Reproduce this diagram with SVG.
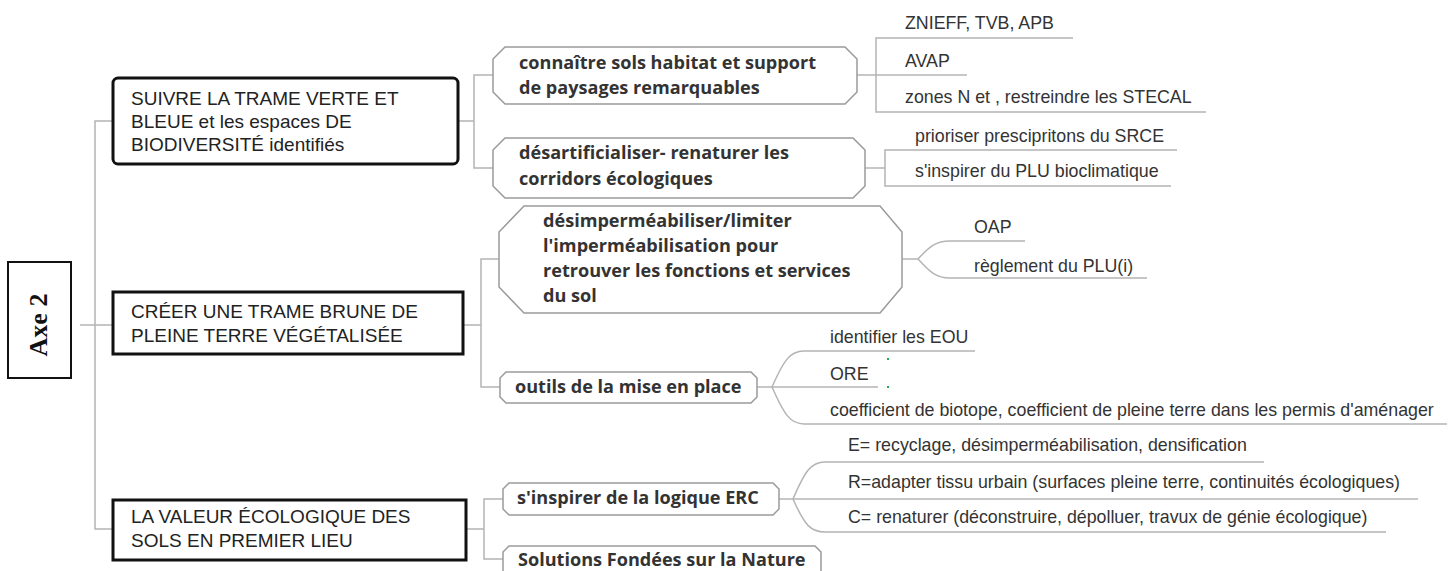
<svg xmlns="http://www.w3.org/2000/svg" width="1451" height="571" viewBox="0 0 1451 571">
  <style>
    .bg { fill: #ffffff; }
    .main { fill: #ffffff; stroke: #111111; stroke-width: 3; }
    .axe { fill: #ffffff; stroke: #111111; stroke-width: 2; }
    .sub { fill: #ffffff; stroke: #9a9a9a; stroke-width: 1.5; }
    .link { fill: none; stroke: #b4b4b4; stroke-width: 1.5; }
    .t1 { font-family: "Liberation Sans", Arial, sans-serif; font-size: 19px; fill: #222222; }
    .t2 { font-family: "Open Sans", "DejaVu Sans", sans-serif; font-weight: 700; font-size: 18.1px; fill: #333333; }
    .t3 { font-family: "Liberation Sans", Arial, sans-serif; font-size: 17.8px; fill: #333333; }
    .tax { font-family: "Liberation Serif", "Times New Roman", serif; font-weight: 700; font-size: 26px; fill: #111111; }
  </style>
  <rect class="bg" x="0" y="0" width="1451" height="571"/>

  <!-- connectors -->
  <g id="connectors">
    <path class="link" d="M80,325 H95"/>
    <path class="link" d="M113,121 H95 V529 H113 M95,325 H113"/>
    <!-- branch 1 -->
    <path class="link" d="M458,121 H474 M493,75 H474 V168 H493"/>
    <path class="link" d="M857,75 H967"/>
    <path class="link" d="M1073,38 H876 V112 H1206"/>
    <path class="link" d="M865,168 H885"/>
    <path class="link" d="M1177,150 H885 V186 H1171"/>
    <!-- branch 2 -->
    <path class="link" d="M463,325 H481 M499,259 H481 V387 H500"/>
    <path class="link" d="M902,259 H918"/>
    <path class="link" d="M918,259 C930,246 936,241 950,241 H1025"/>
    <path class="link" d="M918,259 C930,272 936,278 950,278 H1147"/>
    <path class="link" d="M757,387 H878"/>
    <path class="link" d="M772,387 C784,360 790,351 804,351 H975"/>
    <path class="link" d="M772,387 C784,414 790,424 804,424 H1447"/>
    <!-- branch 3 -->
    <path class="link" d="M466,529 H484 M503,499 H484 V559 H503"/>
    <path class="link" d="M779,499 H1418"/>
    <path class="link" d="M793,499 C805,471 811,462 825,462 H1264"/>
    <path class="link" d="M793,499 C805,526 811,532 825,532 H1386"/>
    <!-- stray marks near ORE -->
    <rect x="887" y="358" width="2" height="2" fill="#22aa55"/>
    <rect x="887" y="386" width="2" height="2" fill="#22aa55"/>
  </g>

  <!-- root -->
  <g id="axe2">
    <rect class="axe" x="8" y="262" width="63" height="116"/>
    <text class="tax" x="47" y="325" text-anchor="middle" transform="rotate(-90 47 325)">Axe 2</text>
  </g>

  <!-- first level -->
  <g id="n-tvb">
    <rect class="main" x="113" y="78" width="345" height="86" rx="5"/>
    <text class="t1" x="131" y="105">SUIVRE LA TRAME VERTE ET</text>
    <text class="t1" x="131" y="128">BLEUE et les espaces DE</text>
    <text class="t1" x="131" y="151">BIODIVERSITÉ identifiés</text>
  </g>
  <g id="n-brune">
    <rect class="main" x="113" y="292" width="350" height="62"/>
    <text class="t1" x="131" y="318">CRÉER UNE TRAME BRUNE DE</text>
    <text class="t1" x="131" y="342">PLEINE TERRE VÉGÉTALISÉE</text>
  </g>
  <g id="n-valeur">
    <rect class="main" x="113" y="500" width="353" height="60"/>
    <text class="t1" x="131" y="523">LA VALEUR ÉCOLOGIQUE DES</text>
    <text class="t1" x="131" y="547">SOLS EN PREMIER LIEU</text>
  </g>

  <!-- second level -->
  <g id="n-connaitre">
    <polygon class="sub" points="505,47 845,47 857,59 857,92 845,104 505,104 493,92 493,59"/>
    <text class="t2" x="519" y="69">connaître sols habitat et support</text>
    <text class="t2" x="519" y="94">de paysages remarquables</text>
  </g>
  <g id="n-desartif">
    <polygon class="sub" points="505,138 853,138 865,150 865,186 853,198 505,198 493,186 493,150"/>
    <text class="t2" x="519" y="159">désartificialiser- renaturer les</text>
    <text class="t2" x="519" y="185">corridors écologiques</text>
  </g>
  <g id="n-desimper">
    <polygon class="sub" points="524,206 880,206 902,232 902,287 880,313 524,313 499,287 499,232"/>
    <text class="t2" x="543" y="227">désimperméabiliser/limiter</text>
    <text class="t2" x="543" y="252">l'imperméabilisation pour</text>
    <text class="t2" x="543" y="277">retrouver les fonctions et services</text>
    <text class="t2" x="543" y="302">du sol</text>
  </g>
  <g id="n-outils">
    <polygon class="sub" points="506,372 751,372 757,378 757,397 751,403 506,403 500,397 500,378"/>
    <text class="t2" x="515" y="393">outils de la mise en place</text>
  </g>
  <g id="n-erc">
    <polygon class="sub" points="509,483 773,483 779,489 779,509 773,515 509,515 503,509 503,489"/>
    <text class="t2" x="517" y="504">s'inspirer de la logique ERC</text>
  </g>
  <g id="n-sfn">
    <polygon class="sub" points="509,546 815,546 821,552 821,590 503,590 503,552"/>
    <text class="t2" x="518" y="566">Solutions Fondées sur la Nature</text>
  </g>

  <!-- leaves -->
  <g id="l-znieff"><text class="t3" x="905" y="29">ZNIEFF, TVB, APB</text></g>
  <g id="l-avap"><text class="t3" x="905" y="67">AVAP</text></g>
  <g id="l-zones"><text class="t3" x="905" y="103">zones N et , restreindre les STECAL</text></g>
  <g id="l-srce"><text class="t3" x="915" y="142">prioriser prescipritons du SRCE</text></g>
  <g id="l-plu"><text class="t3" x="915" y="177">s'inspirer du PLU bioclimatique</text></g>
  <g id="l-oap"><text class="t3" x="974" y="233">OAP</text></g>
  <g id="l-reglement"><text class="t3" x="974" y="272">règlement du PLU(i)</text></g>
  <g id="l-eou"><text class="t3" x="830" y="343">identifier les EOU</text></g>
  <g id="l-ore"><text class="t3" x="830" y="380">ORE</text></g>
  <g id="l-coef"><text class="t3" x="830" y="416">coefficient de biotope, coefficient de pleine terre dans les permis d'aménager</text></g>
  <g id="l-e"><text class="t3" x="848" y="451">E= recyclage, désimperméabilisation, densification</text></g>
  <g id="l-r"><text class="t3" x="848" y="488">R=adapter tissu urbain (surfaces pleine terre, continuités écologiques)</text></g>
  <g id="l-c"><text class="t3" x="848" y="523">C= renaturer (déconstruire, dépolluer, travux de génie écologique)</text></g>
</svg>
